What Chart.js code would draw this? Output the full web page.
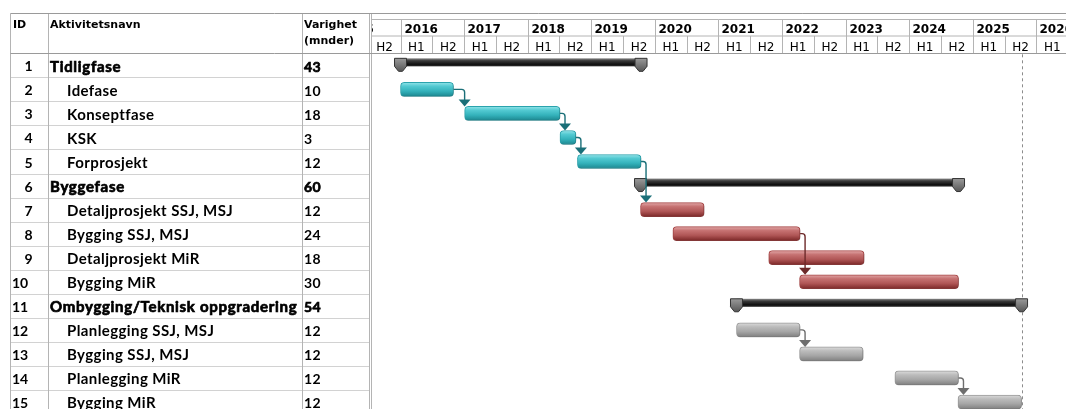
<!DOCTYPE html>
<html>
<head>
<meta charset="utf-8">
<title>Fremdriftsplan</title>
<script src="https://cdn.jsdelivr.net/npm/chart.js@4.4.1/dist/chart.umd.min.js"></script>
<style>
  html, body { margin: 0; padding: 0; background: #fff; overflow: hidden; }
  #wrap { position: relative; width: 1066px; height: 414px; }
</style>
</head>
<body>
<div id="wrap"><canvas id="gantt"></canvas></div>
<script>
// Task table: one entry per row, summary rows carry no start of their own.
const ids = ['1', '2', '3', '4', '5', '6', '7', '8', '9', '10', '11', '12', '13', '14', '15'];
const names = [
  'Tidligfase', 'Idefase', 'Konseptfase', 'KSK', 'Forprosjekt',
  'Byggefase', 'Detaljprosjekt SSJ, MSJ', 'Bygging SSJ, MSJ', 'Detaljprosjekt MiR', 'Bygging MiR',
  'Ombygging/Teknisk oppgradering', 'Planlegging SSJ, MSJ', 'Bygging SSJ, MSJ', 'Planlegging MiR', 'Bygging MiR'
];
const durations = [43, 10, 18, 3, 12, 60, 12, 24, 18, 30, 54, 12, 12, 12, 12]; // months
const startDates = [
  null, '2016-01-01', '2017-01-04', '2018-07-04', '2018-10-13',
  null, '2019-10-10', '2020-04-13', '2021-10-16', '2022-04-10',
  null, '2021-04-13', '2022-04-10', '2023-10-10', '2024-10-07'
];
const groups = [
  'summary', 'teal', 'teal', 'teal', 'teal',
  'summary', 'red', 'red', 'red', 'red',
  'summary', 'gray', 'gray', 'gray', 'gray'
];
const parents = [null, 0, 0, 0, 0, null, 5, 5, 5, 5, null, 10, 10, 10, 10];
// finish-to-start links, as [predecessor row, successor row]
const links = [[1, 2], [2, 3], [3, 4], [4, 6], [7, 9], [11, 12], [13, 14]];

const years = [2015, 2016, 2017, 2018, 2019, 2020, 2021, 2022, 2023, 2024, 2025, 2026];
const halfLabels = ['H1', 'H2'];

// visible time window, in months counted from Jan 2016
const VIEW_START = -5.57;
const VIEW_END = 125.58;

const HEADER_TOP = 13.5;
const YEAR_TOP = 19.5;
const HALF_TOP = 36;
const BODY_TOP = 53.3;
const TABLE_LEFT = 10.5;
const COL_NAME = 48.5;
const COL_DUR = 302.5;
const TABLE_RIGHT = 369.5;
const TIME_LEFT = 371;

const COLORS = {
  teal: { stops: [[0, '#93e4e9'], [0.28, '#52c9d1'], [0.62, '#34b2bb'], [1, '#1c8790']], border: '#2ba3ad', link: '#1a6f78' },
  red:  { stops: [[0, '#e2a9a9'], [0.28, '#c67272'], [0.62, '#b05656'], [1, '#7b2828']], border: '#a64545', link: '#6d2a2a' },
  gray: { stops: [[0, '#dcdcdc'], [0.28, '#bcbcbc'], [0.62, '#a6a6a6'], [1, '#808080']], border: '#9b9b9b', link: '#6e6e6e' }
};

function monthsOf(iso) {
  const [y, m, d] = iso.split('-').map(Number);
  const dim = new Date(y, m, 0).getDate();
  return (y - 2016) * 12 + (m - 1) + (d - 1) / dim;
}

const starts = startDates.map(s => (s ? monthsOf(s) : null));
const ends = starts.map((s, i) => (s == null ? null : s + durations[i]));
// summary bars span their children
groups.forEach((g, i) => {
  if (g !== 'summary') return;
  const kids = parents.map((p, k) => (p === i ? k : -1)).filter(k => k >= 0);
  starts[i] = Math.min(...kids.map(k => starts[k]));
  ends[i] = Math.max(...kids.map(k => ends[k]));
});

function seriesFor(group) {
  return ids.map((_, i) => (groups[i] === group ? [starts[i], ends[i]] : null));
}

function barGradient(c, stops) {
  const { chart, dataIndex } = c;
  if (!chart.chartArea) return stops[1][1];
  const yc = chart.scales.y.getPixelForValue(dataIndex);
  const g = chart.ctx.createLinearGradient(0, yc - 7, 0, yc + 7);
  stops.forEach(([o, col]) => g.addColorStop(o, col));
  return g;
}

function taskDataset(group) {
  const c = COLORS[group];
  return {
    label: group,
    data: seriesFor(group),
    grouped: false,
    barThickness: 14,
    borderWidth: 1,
    borderRadius: 4,
    borderSkipped: false,
    borderColor: c.border,
    backgroundColor: ctx => barGradient(ctx, c.stops)
  };
}

function line(ctx, x1, y1, x2, y2) {
  ctx.beginPath();
  ctx.moveTo(x1, y1);
  ctx.lineTo(x2, y2);
  ctx.stroke();
}

// bold text, optionally thickened with a thin stroke for the summary rows
function heavyText(ctx, text, x, y, heavy) {
  ctx.fillText(text, x, y);
  if (heavy) {
    ctx.lineWidth = 0.7;
    ctx.strokeStyle = '#000';
    ctx.strokeText(text, x, y);
  }
}

const ganttTable = {
  id: 'ganttTable',
  beforeDraw(chart) {
    const { ctx, width, height } = chart;
    const xs = chart.scales.x;
    const ys = chart.scales.y;
    const rowH = (chart.chartArea.bottom - chart.chartArea.top) / ids.length;

    ctx.save();
    ctx.fillStyle = '#fff';
    ctx.fillRect(0, 0, width, height);

    // row separators in the table
    ctx.lineWidth = 1;
    ctx.strokeStyle = '#d2d2d2';
    for (let i = 1; i <= ids.length; i++) {
      const y = Math.round(BODY_TOP + i * rowH) + 0.5;
      line(ctx, TABLE_LEFT, y, TABLE_RIGHT, y);
    }

    // column borders
    ctx.strokeStyle = '#b4b4b4';
    [TABLE_LEFT, COL_NAME, COL_DUR, TABLE_RIGHT, TIME_LEFT + 0.5].forEach(x => line(ctx, x, HEADER_TOP, x, height));
    ctx.strokeStyle = '#9a9a9a';
    line(ctx, TABLE_LEFT, HEADER_TOP, width, HEADER_TOP);
    line(ctx, TABLE_LEFT, BODY_TOP + 0.2, width, BODY_TOP + 0.2);
    ctx.strokeStyle = '#b4b4b4';
    line(ctx, TIME_LEFT, YEAR_TOP, width, YEAR_TOP);
    line(ctx, TIME_LEFT, HALF_TOP, width, HALF_TOP);

    // table header
    ctx.fillStyle = '#000';
    ctx.textBaseline = 'alphabetic';
    ctx.textAlign = 'left';
    ctx.font = 'bold 11px "DejaVu Sans"';
    ctx.fillText('ID', 13, 28);
    ctx.fillText('Aktivitetsnavn', 50, 28);
    ctx.fillText('Varighet', 304, 28);
    ctx.fillText('(mnder)', 304, 44);

    // table rows
    ids.forEach((id, i) => {
      const yc = ys.getPixelForValue(i);
      const summary = groups[i] === 'summary';
      ctx.letterSpacing = '0px';
      ctx.font = '700 14px Lato';
      ctx.textAlign = 'center';
      ctx.fillText(id, 28.5 - (id.length - 1) * 8.5, yc + 6);
      ctx.textAlign = 'left';
      ctx.font = '700 15px Lato';
      ctx.letterSpacing = summary ? '0.7px' : '0.4px';
      heavyText(ctx, names[i], summary ? 50 : 67, yc + 6.5, summary);
      ctx.letterSpacing = '0.3px';
      ctx.font = '700 14px Lato';
      heavyText(ctx, String(durations[i]), 304, yc + 6.5, summary);
    });
    ctx.letterSpacing = '0px';

    // timescale header: years over half-years
    ctx.beginPath();
    ctx.rect(TIME_LEFT + 1, 0, width - TIME_LEFT, BODY_TOP);
    ctx.clip();
    ctx.lineWidth = 1;
    years.forEach(yr => {
      const m0 = (yr - 2016) * 12;
      const x0 = Math.round(xs.getPixelForValue(m0)) + 0.5;
      ctx.strokeStyle = '#b4b4b4';
      line(ctx, x0, YEAR_TOP, x0, HALF_TOP);
      ctx.fillStyle = '#000';
      ctx.textAlign = 'left';
      ctx.font = 'bold 12px "DejaVu Sans"';
      ctx.fillText(String(yr), x0 + 3, 33);
      halfLabels.forEach((h, k) => {
        const a = xs.getPixelForValue(m0 + k * 6);
        const b = xs.getPixelForValue(m0 + k * 6 + 6);
        line(ctx, Math.round(a) + 0.5, HALF_TOP, Math.round(a) + 0.5, BODY_TOP);
        ctx.textAlign = 'center';
        ctx.font = '12px "DejaVu Sans"';
        ctx.fillText(h, (a + b) / 2, 51);
      });
    });
    ctx.restore();
  },

  beforeDatasetsDraw(chart) {
    // project finish marker
    const { ctx, height } = chart;
    const x = Math.round(chart.scales.x.getPixelForValue(Math.max(...ends))) + 0.5;
    ctx.save();
    ctx.strokeStyle = '#8c8c8c';
    ctx.lineWidth = 1;
    ctx.setLineDash([3, 3]);
    line(ctx, x, BODY_TOP + 1, x, height);
    ctx.restore();
  },

  beforeDatasetDraw(chart, args) {
    if (chart.data.datasets[args.index].label === 'summary') return;
    const ctx = chart.ctx;
    ctx.save();
    ctx.shadowColor = 'rgba(0,0,0,0.22)';
    ctx.shadowBlur = 2;
    ctx.shadowOffsetX = 1;
    ctx.shadowOffsetY = 2;
  },

  afterDatasetDraw(chart, args) {
    if (chart.data.datasets[args.index].label === 'summary') return;
    chart.ctx.restore();
  },

  afterDatasetsDraw(chart) {
    const { ctx } = chart;
    const xs = chart.scales.x;
    const ys = chart.scales.y;

    // summary bars with end caps, from the bar elements' geometry
    const meta = chart.getDatasetMeta(0);
    meta.data.forEach((el, i) => {
      if (groups[i] !== 'summary') return;
      const left = Math.min(el.x, el.base);
      const right = Math.max(el.x, el.base);
      const top = el.y - 7;
      const g = ctx.createLinearGradient(0, top, 0, top + 8);
      g.addColorStop(0, '#8a8a8a');
      g.addColorStop(0.3, '#3a3a3a');
      g.addColorStop(0.75, '#101010');
      g.addColorStop(1, '#2c2c2c');
      ctx.fillStyle = g;
      ctx.fillRect(left, top, right - left, 8);
      [left, right].forEach(x => {
        ctx.beginPath();
        ctx.moveTo(x - 6, top);
        ctx.lineTo(x + 6, top);
        ctx.lineTo(x + 6, top + 8);
        ctx.lineTo(x + 2, top + 13);
        ctx.lineTo(x - 2, top + 13);
        ctx.lineTo(x - 6, top + 8);
        ctx.closePath();
        const cg = ctx.createLinearGradient(0, top, 0, top + 13);
        cg.addColorStop(0, '#9a9a9a');
        cg.addColorStop(1, '#575757');
        ctx.fillStyle = cg;
        ctx.fill();
        ctx.strokeStyle = '#333';
        ctx.lineWidth = 1;
        ctx.stroke();
      });
    });

    // dependency arrows
    links.forEach(([p, s]) => {
      const col = COLORS[groups[p]].link;
      const pEnd = xs.getPixelForValue(ends[p]);
      const pY = ys.getPixelForValue(p);
      const sTop = ys.getPixelForValue(s) - 7;
      const xd = Math.max(pEnd + 5, xs.getPixelForValue(starts[s]));
      ctx.save();
      ctx.strokeStyle = col;
      ctx.fillStyle = col;
      ctx.lineWidth = 1.4;
      ctx.beginPath();
      ctx.moveTo(pEnd, pY);
      ctx.lineTo(xd - 3, pY);
      ctx.quadraticCurveTo(xd, pY, xd, pY + 3);
      ctx.lineTo(xd, sTop - 6);
      ctx.stroke();
      ctx.beginPath();
      ctx.moveTo(xd - 6, sTop - 7);
      ctx.lineTo(xd + 6, sTop - 7);
      ctx.lineTo(xd, sTop);
      ctx.closePath();
      ctx.fill();
      ctx.restore();
    });
  }
};

new Chart(document.getElementById('gantt'), {
  type: 'bar',
  data: {
    labels: ids,
    datasets: [
      {
        label: 'summary',
        data: seriesFor('summary'),
        grouped: false,
        barThickness: 8,
        borderWidth: 0,
        backgroundColor: 'rgba(0,0,0,0)'
      },
      taskDataset('teal'),
      taskDataset('red'),
      taskDataset('gray')
    ]
  },
  options: {
    indexAxis: 'y',
    responsive: true,
    maintainAspectRatio: false,
    animation: false,
    events: [],
    layout: { padding: { left: TIME_LEFT, top: BODY_TOP, right: 0, bottom: 0 } },
    scales: {
      x: { type: 'linear', min: VIEW_START, max: VIEW_END, display: false },
      y: { type: 'category', display: false, offset: true }
    },
    plugins: {
      legend: { display: false },
      tooltip: { enabled: false }
    }
  },
  plugins: [ganttTable]
});
</script>
</body>
</html>
